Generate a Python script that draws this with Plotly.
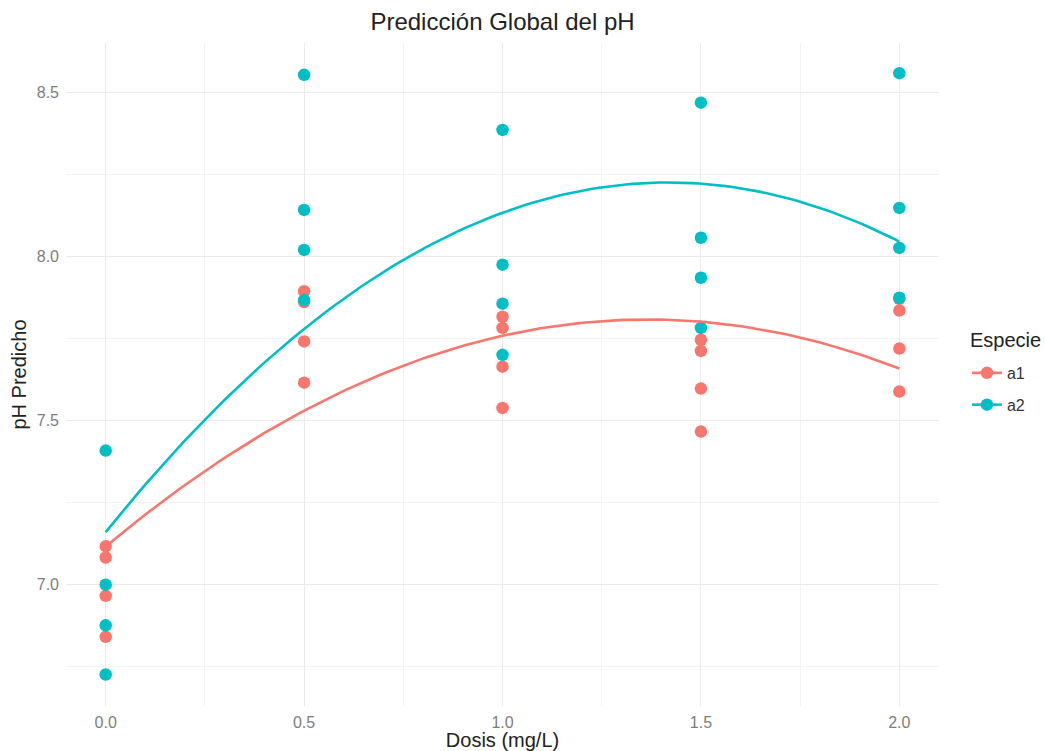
import numpy as np
import plotly.graph_objects as go

# Predicted pH per dose, species a1
dosis_a1 = [0.0, 0.0, 0.0, 0.0,
            0.5, 0.5, 0.5, 0.5,
            1.0, 1.0, 1.0, 1.0,
            1.5, 1.5, 1.5, 1.5,
            2.0, 2.0, 2.0, 2.0]
ph_a1 = [7.117, 7.083, 6.966, 6.841,
         7.895, 7.862, 7.742, 7.616,
         7.817, 7.783, 7.665, 7.539,
         7.747, 7.713, 7.598, 7.467,
         7.872, 7.836, 7.720, 7.589]

# Predicted pH per dose, species a2
dosis_a2 = [0.0, 0.0, 0.0, 0.0,
            0.5, 0.5, 0.5, 0.5,
            1.0, 1.0, 1.0, 1.0,
            1.5, 1.5, 1.5, 1.5,
            2.0, 2.0, 2.0, 2.0]
ph_a2 = [7.409, 7.000, 6.876, 6.726,
         8.555, 8.143, 8.021, 7.868,
         8.387, 7.976, 7.857, 7.701,
         8.470, 8.058, 7.936, 7.783,
         8.560, 8.149, 8.027, 7.875]

x_ticks = [0.0, 0.5, 1.0, 1.5, 2.0]
x_labels = ["0.0", "0.5", "1.0", "1.5", "2.0"]
y_ticks = [7.0, 7.5, 8.0, 8.5]
y_labels = ["7.0", "7.5", "8.0", "8.5"]

series = [
    ("a1", dosis_a1, ph_a1, "#F8766D"),
    ("a2", dosis_a2, ph_a2, "#00BFC4"),
]

FONT = "Liberation Sans, Arial, Helvetica, sans-serif"

fig = go.Figure()

# Points first (a1 then a2 so a2 sits on top)
for name, xs, ys, col in series:
    fig.add_trace(go.Scatter(
        x=xs, y=ys, mode="markers", name=name, showlegend=False,
        marker=dict(color=col, size=12.5, line=dict(width=0)),
        hoverinfo="x+y+name",
    ))

# Second-degree polynomial fit for each species
for name, xs, ys, col in series:
    coef = np.polyfit(xs, ys, 2)
    xf = np.linspace(min(xs), max(xs), 120)
    yf = np.polyval(coef, xf)
    fig.add_trace(go.Scatter(
        x=xf, y=yf, mode="lines", name=name, showlegend=False,
        line=dict(color=col, width=2.6), hoverinfo="skip",
    ))

# Legend keys combining line and point
for name, xs, ys, col in series:
    fig.add_trace(go.Scatter(
        x=[None], y=[None], mode="lines+markers", name=name,
        legendgroup=name,
        line=dict(color=col, width=2.6),
        marker=dict(color=col, size=12.5),
    ))

grid_major = "#EBEBEB"
grid_minor = "#F3F3F3"
tick_font = dict(family=FONT, size=16, color="#7d7d7d")
title_font = dict(family=FONT, size=20, color="#222222")

fig.update_layout(
    width=1045, height=751,
    margin=dict(l=66, r=106, t=43, b=45, autoexpand=False),
    paper_bgcolor="white", plot_bgcolor="white",
    font=dict(family=FONT, color="#222222"),
    title=dict(text="Predicción Global del pH", x=0.5, xref="paper", xanchor="center",
               y=1 - 22 / 751, yanchor="middle",
               font=dict(family=FONT, size=24, color="#222222")),
    legend=dict(
        font=dict(family=FONT, size=16, color="#333333"),
        x=1.032, xanchor="left", y=0.528, yanchor="top",
        itemwidth=30, tracegroupgap=8, bgcolor="rgba(0,0,0,0)",
    ),
    annotations=[dict(
        text="Especie", xref="paper", yref="paper", x=1.0332, y=0.552,
        xanchor="left", yanchor="middle", showarrow=False, font=title_font,
    )],
    xaxis=dict(
        range=[-0.1, 2.1], tickvals=x_ticks, ticktext=x_labels,
        showgrid=True, gridcolor=grid_major, gridwidth=1.3,
        minor=dict(dtick=0.25, tick0=0, showgrid=True, gridcolor=grid_minor, gridwidth=0.7),
        zeroline=False, showline=False, ticks="", automargin=False,
        tickfont=tick_font, ticklabelstandoff=5,
        title=dict(text="Dosis (mg/L)", font=title_font, standoff=6),
    ),
    yaxis=dict(
        range=[6.630, 8.652], tickvals=y_ticks, ticktext=y_labels,
        showgrid=True, gridcolor=grid_major, gridwidth=1.3,
        minor=dict(dtick=0.25, tick0=6.75, showgrid=True, gridcolor=grid_minor, gridwidth=0.7),
        zeroline=False, showline=False, ticks="", automargin=False,
        tickfont=tick_font, ticklabelstandoff=6,
        title=dict(text="pH Predicho", font=title_font, standoff=4),
    ),
)

fig.write_html("out.html")
